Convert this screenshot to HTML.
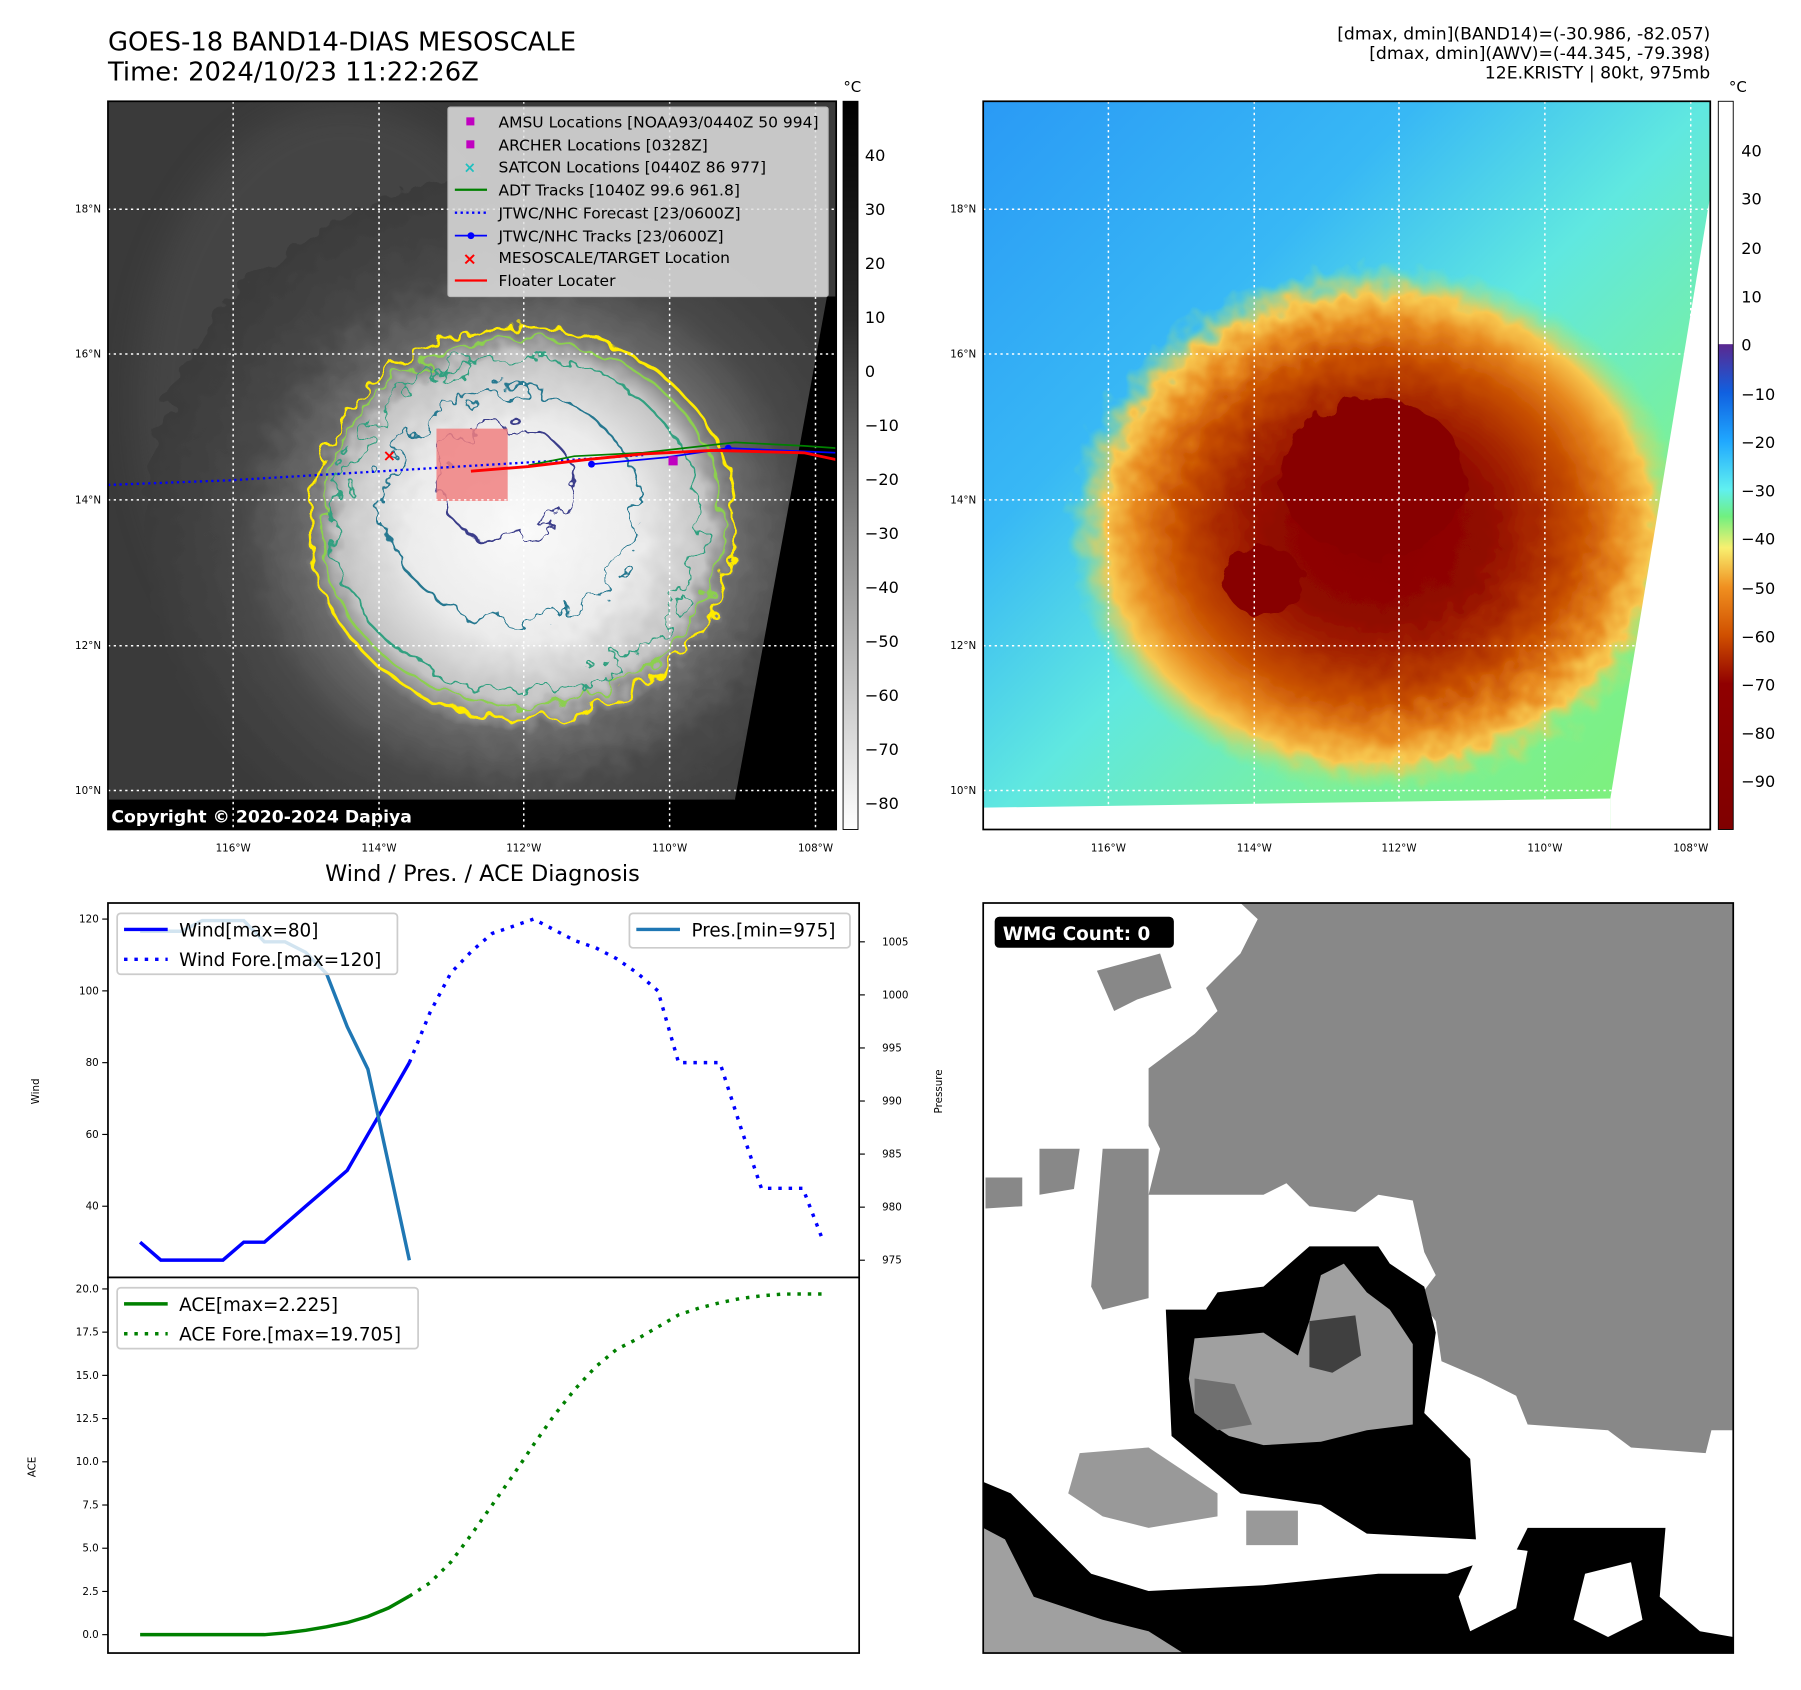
<!DOCTYPE html>
<html><head><meta charset="utf-8"><style>
html,body{margin:0;padding:0;background:#fff}
svg{display:block;font-family:"DejaVu Sans","Liberation Sans",sans-serif}
</style></head><body>
<svg id="root" width="1801" height="1690" viewBox="0 0 1568 1471" xmlns="http://www.w3.org/2000/svg">
<defs>
<filter id="wig" x="-20%" y="-20%" width="140%" height="140%"><feTurbulence type="fractalNoise" baseFrequency="0.06" numOctaves="2" seed="3"/><feDisplacementMap in="SourceGraphic" scale="22"/></filter>
<filter id="wig2" x="-20%" y="-20%" width="140%" height="140%"><feTurbulence type="fractalNoise" baseFrequency="0.05" numOctaves="3" seed="8"/><feDisplacementMap in="SourceGraphic" scale="40"/></filter>
<filter id="blur"><feGaussianBlur stdDeviation="14"/></filter>
<radialGradient id="g1" cx="0.5" cy="0.5" r="0.5"><stop offset="0" stop-color="#fafafa"/><stop offset="0.3" stop-color="#ececec"/><stop offset="0.48" stop-color="#c4c4c4"/><stop offset="0.57" stop-color="#6a6a6a"/><stop offset="0.75" stop-color="#474747"/><stop offset="1" stop-color="#3a3a3a"/></radialGradient>
<linearGradient id="bg2" x1="0" y1="0" x2="1" y2="1"><stop offset="0" stop-color="#2a9af5"/><stop offset="0.3" stop-color="#38b8f5"/><stop offset="0.5" stop-color="#60e8e0"/><stop offset="0.7" stop-color="#78f0a0"/><stop offset="1" stop-color="#80f070"/></linearGradient>
<radialGradient id="g2" cx="0.5" cy="0.5" r="0.5"><stop offset="0" stop-color="#8a0000"/><stop offset="0.35" stop-color="#900800"/><stop offset="0.5" stop-color="#a82800"/><stop offset="0.65" stop-color="#c85000"/><stop offset="0.78" stop-color="#e88a20"/><stop offset="0.88" stop-color="#f8c850"/><stop offset="1" stop-color="#90f080" stop-opacity="0"/></radialGradient>
<linearGradient id="cb1" x1="0" y1="0" x2="0" y2="1"><stop offset="0" stop-color="#000"/><stop offset="0.3" stop-color="#2a2a2a"/><stop offset="0.6" stop-color="#8a8a8a"/><stop offset="1" stop-color="#fff"/></linearGradient>
<linearGradient id="cb2" x1="0" y1="0" x2="0" y2="1"><stop offset="0" stop-color="#fff"/><stop offset="0.333" stop-color="#fff"/><stop offset="0.334" stop-color="#5a2890"/><stop offset="0.4" stop-color="#1060e0"/><stop offset="0.467" stop-color="#20a8ff"/><stop offset="0.533" stop-color="#60f0f0"/><stop offset="0.57" stop-color="#70f080"/><stop offset="0.613" stop-color="#f8f070"/><stop offset="0.667" stop-color="#f09020"/><stop offset="0.733" stop-color="#d05000"/><stop offset="0.8" stop-color="#900000"/><stop offset="1" stop-color="#800000"/></linearGradient>
<clipPath id="c1"><rect x="94" y="88" width="634" height="634"/></clipPath>
<clipPath id="c2"><rect x="856" y="88" width="633" height="634"/></clipPath>
</defs>

<text x="94" y="44" font-size="22.5">GOES-18 BAND14-DIAS MESOSCALE</text>
<text x="94" y="70" font-size="22.5">Time: 2024/10/23 11:22:26Z</text>
<g font-size="15" text-anchor="end">
<text x="1489" y="34">[dmax, dmin](BAND14)=(-30.986, -82.057)</text>
<text x="1489" y="51">[dmax, dmin](AWV)=(-44.345, -79.398)</text>
<text x="1489" y="68">12E.KRISTY | 80kt, 975mb</text>
</g>

<g clip-path="url(#c1)">
<rect x="94" y="88" width="634" height="634" fill="#3a3a3a"/>
<ellipse cx="300" cy="350" rx="180" ry="260" fill="#505050" opacity="0.5" filter="url(#blur)"/>
<ellipse cx="455" cy="460" rx="330" ry="310" fill="url(#g1)" filter="url(#wig)"/>
<ellipse cx="455" cy="455" rx="185" ry="170" fill="none" stroke="#ffeb00" stroke-width="2.5" filter="url(#wig)"/>
<ellipse cx="455" cy="455" rx="175" ry="160" fill="none" stroke="#8ccf50" stroke-width="2" filter="url(#wig)"/>
<ellipse cx="450" cy="455" rx="160" ry="145" fill="none" stroke="#30a080" stroke-width="2" filter="url(#wig2)"/>
<ellipse cx="445" cy="440" rx="110" ry="100" fill="none" stroke="#287890" stroke-width="2" filter="url(#wig2)"/>
<ellipse cx="440" cy="420" rx="60" ry="50" fill="none" stroke="#3a3e8a" stroke-width="2" filter="url(#wig2)"/>
<polygon points="720,258 728,258 728,722 640,722 640,695" fill="#000"/>
<rect x="94" y="696" width="634" height="26" fill="#000"/>
<rect x="380" y="373" width="62" height="63" fill="#f08080" opacity="0.85"/>
<g stroke="#fff" stroke-dasharray="2,3" stroke-width="1.3">
<line x1="94" y1="182" x2="728" y2="182"/><line x1="94" y1="308" x2="728" y2="308"/><line x1="94" y1="435" x2="728" y2="435"/><line x1="94" y1="562" x2="728" y2="562"/><line x1="94" y1="688" x2="728" y2="688"/>
<line x1="203" y1="88" x2="203" y2="722"/><line x1="330" y1="88" x2="330" y2="722"/><line x1="456" y1="88" x2="456" y2="722"/><line x1="583" y1="88" x2="583" y2="722"/><line x1="710" y1="88" x2="710" y2="722"/>
</g>
<polyline points="94,422 200,418 300,412 400,406 500,400 560,396" fill="none" stroke="#00f" stroke-width="2" stroke-dasharray="2,3"/>
<polyline points="460,405 500,397 560,394 640,385 700,388 728,390" fill="none" stroke="#008000" stroke-width="1.5"/>
<polyline points="515,404 580,398 634,390 728,394" fill="none" stroke="#00f" stroke-width="1.5"/>
<circle cx="515" cy="404" r="3" fill="#00f"/><circle cx="634" cy="390" r="3" fill="#00f"/>
<polyline points="410,410 460,406 510,400 560,395 620,392 700,394 728,400" fill="none" stroke="#f00" stroke-width="2.5"/>
<rect x="582" y="397" width="8" height="8" fill="#c000c0"/>
<text x="339" y="401" fill="#f00" font-size="14" text-anchor="middle" font-weight="bold">×</text>
<text x="97" y="716" fill="#fff" font-size="15" font-weight="bold">Copyright © 2020-2024 Dapiya</text>
</g>
<rect x="94" y="88" width="634" height="634" fill="none" stroke="#000" stroke-width="1.5"/>
<g>
<rect x="390" y="93" width="331" height="165" fill="#e0e0e0" opacity="0.85" stroke="#ccc" rx="2"/>
<g font-size="13.5">
<rect x="406" y="102" width="7" height="7" fill="#c000c0"/><text x="434" y="111">AMSU Locations [NOAA93/0440Z 50 994]</text>
<rect x="406" y="122" width="7" height="7" fill="#c000c0"/><text x="434" y="131">ARCHER Locations [0328Z]</text>
<text x="409" y="150" fill="#20c0c0" text-anchor="middle" font-size="13" font-weight="bold">×</text><text x="434" y="150">SATCON Locations [0440Z 86 977]</text>
<line x1="396" y1="165" x2="424" y2="165" stroke="#008000" stroke-width="2"/><text x="434" y="170">ADT Tracks [1040Z 99.6 961.8]</text>
<line x1="396" y1="185" x2="424" y2="185" stroke="#00f" stroke-width="2" stroke-dasharray="2,3"/><text x="434" y="190">JTWC/NHC Forecast [23/0600Z]</text>
<line x1="396" y1="205" x2="424" y2="205" stroke="#00f" stroke-width="1.5"/><circle cx="410" cy="205" r="3" fill="#00f"/><text x="434" y="210">JTWC/NHC Tracks [23/0600Z]</text>
<text x="409" y="230" fill="#f00" text-anchor="middle" font-size="15" font-weight="bold">×</text><text x="434" y="229">MESOSCALE/TARGET Location</text>
<line x1="396" y1="244" x2="424" y2="244" stroke="#f00" stroke-width="2"/><text x="434" y="249">Floater Locater</text>
</g></g>
<g font-size="9">
<text x="88" y="185" text-anchor="end">18°N</text><text x="88" y="311" text-anchor="end">16°N</text><text x="88" y="438" text-anchor="end">14°N</text><text x="88" y="565" text-anchor="end">12°N</text><text x="88" y="691" text-anchor="end">10°N</text>
<g text-anchor="middle"><text x="203" y="741">116°W</text><text x="330" y="741">114°W</text><text x="456" y="741">112°W</text><text x="583" y="741">110°W</text><text x="710" y="741">108°W</text></g>
</g>
<g>
<rect x="734" y="88" width="13" height="634" fill="url(#cb1)" stroke="#000" stroke-width="0.8"/>
<text x="742" y="80" font-size="13" text-anchor="middle">°C</text>
<g font-size="14"><text x="753" y="140">40</text><text x="753" y="187">30</text><text x="753" y="234">20</text><text x="753" y="281">10</text><text x="753" y="328">0</text><text x="753" y="375">−10</text><text x="753" y="422">−20</text><text x="753" y="469">−30</text><text x="753" y="516">−40</text><text x="753" y="563">−50</text><text x="753" y="610">−60</text><text x="753" y="657">−70</text><text x="753" y="704">−80</text></g>
</g>

<g clip-path="url(#c2)">
<rect x="856" y="88" width="633" height="634" fill="url(#bg2)"/>
<ellipse cx="1200" cy="460" rx="270" ry="230" fill="url(#g2)" filter="url(#wig)"/>
<ellipse cx="1195" cy="415" rx="80" ry="70" fill="#880000" filter="url(#wig)"/>
<ellipse cx="1100" cy="505" rx="35" ry="30" fill="#880000" filter="url(#wig)"/>
<polygon points="1489,170 1489,722 1402,722 1402,695" fill="#fff"/>
<polygon points="856,703 1402,695 1402,722 856,722" fill="#fff"/>
<g stroke="#fff" stroke-dasharray="2,3" stroke-width="1.3">
<line x1="856" y1="182" x2="1489" y2="182"/><line x1="856" y1="308" x2="1489" y2="308"/><line x1="856" y1="435" x2="1489" y2="435"/><line x1="856" y1="562" x2="1489" y2="562"/><line x1="856" y1="688" x2="1489" y2="688"/>
<line x1="965" y1="88" x2="965" y2="722"/><line x1="1092" y1="88" x2="1092" y2="722"/><line x1="1218" y1="88" x2="1218" y2="722"/><line x1="1345" y1="88" x2="1345" y2="722"/><line x1="1472" y1="88" x2="1472" y2="722"/>
</g>
</g>
<rect x="856" y="88" width="633" height="634" fill="none" stroke="#000" stroke-width="1.5"/>
<g font-size="9">
<text x="850" y="185" text-anchor="end">18°N</text><text x="850" y="311" text-anchor="end">16°N</text><text x="850" y="438" text-anchor="end">14°N</text><text x="850" y="565" text-anchor="end">12°N</text><text x="850" y="691" text-anchor="end">10°N</text>
<g text-anchor="middle"><text x="965" y="741">116°W</text><text x="1092" y="741">114°W</text><text x="1218" y="741">112°W</text><text x="1345" y="741">110°W</text><text x="1472" y="741">108°W</text></g>
</g>
<g>
<rect x="1496" y="88" width="13" height="634" fill="url(#cb2)" stroke="#000" stroke-width="0.8"/>
<text x="1513" y="80" font-size="13" text-anchor="middle">°C</text>
<g font-size="14"><text x="1516" y="136">40</text><text x="1516" y="178">30</text><text x="1516" y="221">20</text><text x="1516" y="263">10</text><text x="1516" y="305">0</text><text x="1516" y="348">−10</text><text x="1516" y="390">−20</text><text x="1516" y="432">−30</text><text x="1516" y="474">−40</text><text x="1516" y="517">−50</text><text x="1516" y="559">−60</text><text x="1516" y="601">−70</text><text x="1516" y="643">−80</text><text x="1516" y="685">−90</text></g>
</g>

<text x="420" y="767" font-size="19.5" text-anchor="middle">Wind / Pres. / ACE Diagnosis</text>
<g id="chart"></g>

<g>
<rect x="856" y="786" width="653" height="653" fill="#fff"/>
<polygon points="1080,786 1509,786 1509,1245 1490,1245 1485,1265 1420,1260 1400,1245 1330,1240 1320,1215 1290,1200 1255,1185 1250,1150 1235,1130 1250,1110 1240,1090 1230,1045 1200,1040 1180,1055 1140,1050 1120,1030 1100,1040 1050,1040 1000,1040 1010,1000 1000,980 1000,930 1040,900 1060,880 1050,860 1080,830 1095,800" fill="#888"/>
<polygon points="960,1000 1000,1000 1000,1130 960,1140 950,1120" fill="#888"/>
<polygon points="955,845 1010,830 1020,860 990,870 970,880" fill="#888"/>
<polygon points="858,1025 890,1025 890,1050 858,1052" fill="#888"/>
<polygon points="905,1000 940,1000 935,1035 905,1040" fill="#888"/>
<polygon points="1015,1140 1050,1140 1060,1125 1100,1120 1140,1085 1200,1085 1210,1100 1240,1120 1250,1160 1240,1230 1280,1270 1285,1340 1190,1335 1150,1310 1080,1300 1050,1275 1020,1250" fill="#000"/>
<polygon points="1040,1165 1080,1162 1100,1160 1130,1180 1140,1150 1150,1110 1170,1100 1190,1125 1210,1140 1230,1170 1230,1240 1190,1245 1150,1255 1100,1258 1070,1250 1040,1230 1035,1200" fill="#a0a0a0"/>
<polygon points="1140,1150 1180,1145 1185,1180 1160,1195 1140,1190" fill="#404040"/>
<polygon points="1040,1200 1075,1205 1090,1240 1060,1245 1040,1230" fill="#707070"/>
<polygon points="856,1290 880,1300 950,1370 1000,1385 1100,1380 1200,1370 1260,1370 1320,1350 1330,1330 1400,1330 1450,1330 1445,1390 1480,1420 1509,1425 1509,1439 856,1439" fill="#000"/>
<polygon points="856,1330 875,1340 900,1390 960,1410 1000,1420 1030,1439 856,1439" fill="#a0a0a0"/>
<polygon points="1290,1345 1330,1350 1320,1400 1280,1420 1270,1390" fill="#fff"/>
<polygon points="1380,1370 1420,1360 1430,1410 1400,1425 1370,1410" fill="#fff"/>
<polygon points="940,1265 1000,1260 1060,1300 1060,1320 1000,1330 960,1320 930,1300" fill="#999"/>
<polygon points="1085,1315 1130,1315 1130,1345 1085,1345" fill="#999"/>
<rect x="856" y="786" width="653" height="653" fill="none" stroke="#000" stroke-width="1.5"/>
<rect x="866" y="798" width="156" height="27" rx="4" fill="#000"/>
<text x="873" y="818" fill="#fff" font-size="16" font-weight="bold">WMG Count: 0</text>
</g>

<script>
var windObs = [30,25,25,25,25,30,30,35,40,45,50,60,70,80];
var windFore = [80,94,105,111,116,118,120,117,114,112,109,105,100,80,80,80,62,45,45,45,30];
var presObs = [1006,1006,1006,1007,1007,1007,1005,1005,1004,1002,997,993,984,975];
var aceObs = [0,0,0,0,0,0,0,0.1,0.25,0.45,0.7,1.05,1.55,2.225];
var aceFore = [2.225,3.0,4.2,5.8,7.5,9.2,11.0,12.7,14.2,15.5,16.5,17.1,17.8,18.5,18.9,19.2,19.45,19.6,19.7,19.705,19.705];
var windTicks = [40,60,80,100,120];
var presTicks = [975,980,985,990,995,1000,1005];
var aceTicks = [0,2.5,5,7.5,10,12.5,15,17.5,20];

var NS='http://www.w3.org/2000/svg';
var chart=document.getElementById('chart');
function X(i){return 122+18.03*i;}
function YW(v){return 925-(v-80)*62.5/20;}
function YP(v){return 1097-(v-975)*(1097-866)/25;}
function YA(v){return 1423-v*(1423-1122)/20;}
function mk(tag,attrs,parent){var e=document.createElementNS(NS,tag);for(var k in attrs)e.setAttribute(k,attrs[k]);(parent||chart).appendChild(e);return e;}
function line(vals,off,yf,color,w,dash,name){
  var pts=vals.map(function(v,i){return X(i+off).toFixed(1)+','+yf(v).toFixed(1);}).join(' ');
  var p=mk('polyline',{points:pts,fill:'none',stroke:color,'stroke-width':w});
  if(dash)p.setAttribute('stroke-dasharray',dash);
  
  
}
var f1=mk('rect',{x:94,y:786,width:654,height:326,fill:'#fff',stroke:'#000','stroke-width':1.5});


var f2=mk('rect',{x:94,y:1112,width:654,height:327,fill:'#fff',stroke:'#000','stroke-width':1.5});


windTicks.forEach(function(t){var y=YW(t);mk('line',{x1:89,y1:y,x2:94,y2:y,stroke:'#000'});var tx=mk('text',{x:86,y:y+3,'font-size':9,'text-anchor':'end'});tx.textContent=t;

});
presTicks.forEach(function(t){var y=YP(t);mk('line',{x1:748,y1:y,x2:753,y2:y,stroke:'#000'});var tx=mk('text',{x:768,y:y+3,'font-size':9});tx.textContent=t;

});
aceTicks.forEach(function(t){var y=YA(t);mk('line',{x1:89,y1:y,x2:94,y2:y,stroke:'#000'});var tx=mk('text',{x:86,y:y+3,'font-size':9,'text-anchor':'end'});tx.textContent=t.toFixed(1);

});
var l1=mk('text',{x:34,y:950,'font-size':9,'text-anchor':'middle',transform:'rotate(-90 34 950)'});l1.textContent='Wind';


var l2=mk('text',{x:820,y:950,'font-size':9,'text-anchor':'middle',transform:'rotate(-90 820 950)'});l2.textContent='Pressure';


var l3=mk('text',{x:31,y:1277,'font-size':9,'text-anchor':'middle',transform:'rotate(-90 31 1277)'});l3.textContent='ACE';


line(windObs,0,YW,'#0000ff',3,null,'wind-line');
line(windFore,13,YW,'#0000ff',3,'3,6','wind-forecast-line');
line(presObs,0,YP,'#1f77b4',3,null,'pressure-line');
line(aceObs,0,YA,'#008000',3,null,'ace-line');
line(aceFore,13,YA,'#008000',3,'3,6','ace-forecast-line');
function legend(x,y,w,h,items,name){
  var g=mk('g',{});
  
  
  mk('rect',{x:x,y:y,width:w,height:h,fill:'#fff','fill-opacity':0.8,stroke:'#ccc','stroke-width':1.5,rx:3},g);
  items.forEach(function(it,k){var yy=y+14+k*26;var l=mk('line',{x1:x+6,y1:yy,x2:x+44,y2:yy,stroke:it[1],'stroke-width':3},g);if(it[2])l.setAttribute('stroke-dasharray','3,6');
    var t=mk('text',{x:x+54,y:yy+6,'font-size':16},g);t.textContent=it[0];});
}
legend(102,795,244,53,[['Wind[max=80]','#0000ff',false],['Wind Fore.[max=120]','#0000ff',true]],'wind-legend');
legend(548,795,192,30,[['Pres.[min=975]','#1f77b4',false]],'pressure-legend');
legend(102,1121,262,53,[['ACE[max=2.225]','#008000',false],['ACE Fore.[max=19.705]','#008000',true]],'ace-legend');
</script>
</svg>
</body></html>
